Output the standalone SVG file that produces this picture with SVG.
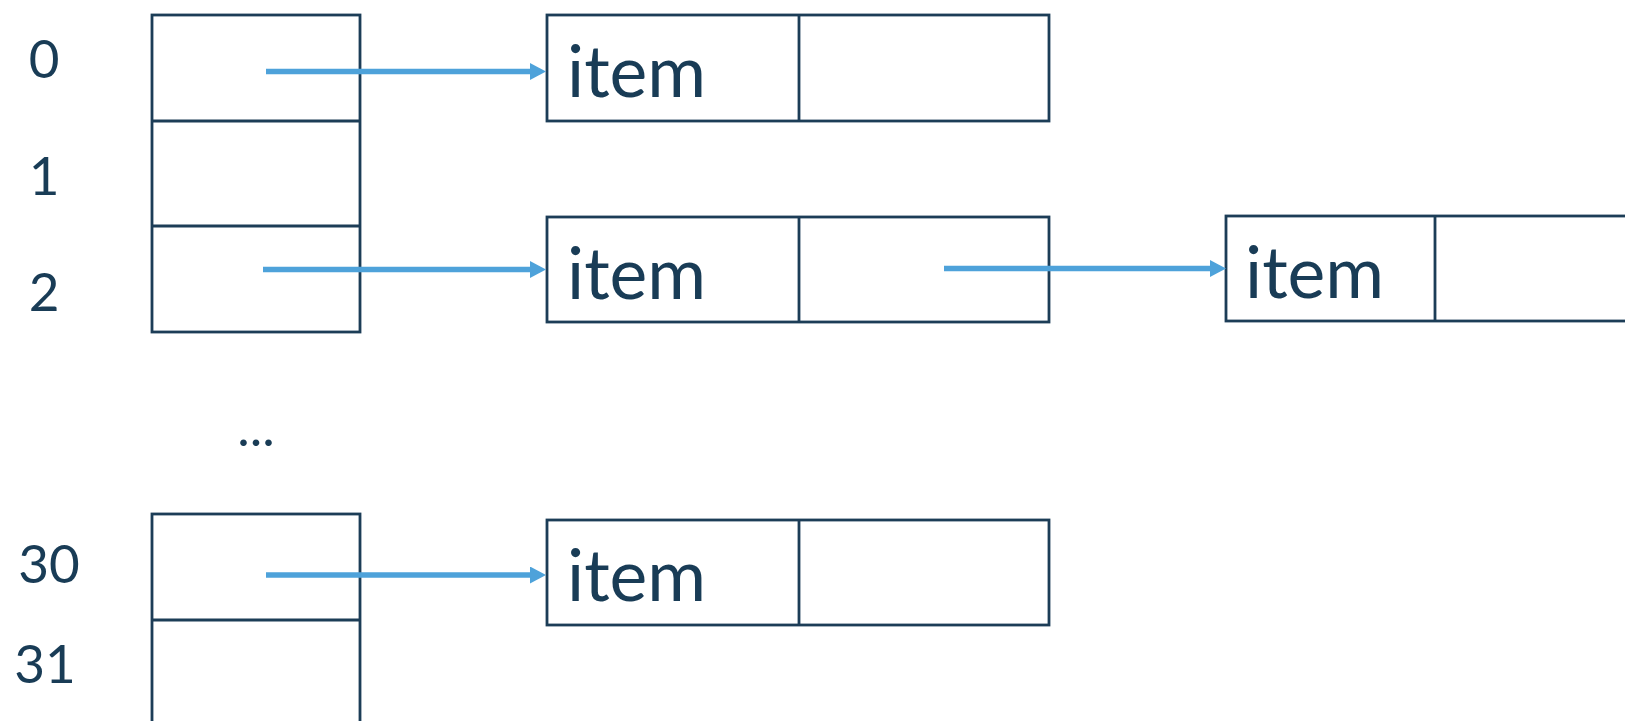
<svg xmlns="http://www.w3.org/2000/svg" width="1625" height="721" viewBox="0 0 1625 721">
  <style>
    .cell { fill: #ffffff; stroke: #1c3d57; stroke-width: 2.8; }
    .div { stroke: #1c3d57; stroke-width: 2.8; }
    .idx { font-family: Lato, "Liberation Sans", sans-serif; font-size: 53px; fill: #193c56; text-anchor: middle; }
    .item { font-family: Lato, "Liberation Sans", sans-serif; font-size: 71.5px; fill: #193c56; }
    .ptr { stroke: #4ea2da; stroke-width: 5.5; fill: none; marker-end: url(#head); }
  </style>
  <defs>
    <marker id="head" viewBox="0 0 16 17" markerWidth="16" markerHeight="17" refX="3" refY="8.5" markerUnits="userSpaceOnUse" orient="auto">
      <path d="M0,0 L16,8.5 L0,17 z" fill="#4ea2da"/>
    </marker>
  </defs>
  <rect width="1625" height="721" fill="#ffffff"/>

  <!-- index labels -->
  <g id="labels">
    <text class="idx" x="44" y="78">0</text>
    <text class="idx" x="44" y="195">1</text>
    <text class="idx" x="44" y="311">2</text>
    <text class="idx" x="256" y="446">...</text>
    <text class="idx" x="49" y="583">30</text>
    <text class="idx" x="45" y="683">31</text>
  </g>

  <!-- bucket array, slots 0-2 -->
  <g id="buckets-top">
    <rect class="cell" x="152" y="15" width="208" height="317"/>
    <line class="div" x1="152" y1="121" x2="360" y2="121"/>
    <line class="div" x1="152" y1="226" x2="360" y2="226"/>
  </g>

  <!-- bucket array, slots 30-31 -->
  <g id="buckets-bottom">
    <rect class="cell" x="152" y="514" width="208" height="230"/>
    <line class="div" x1="152" y1="620" x2="360" y2="620"/>
  </g>

  <!-- list nodes -->
  <g id="node-0">
    <rect class="cell" x="547" y="15" width="502" height="106"/>
    <line class="div" x1="799" y1="15" x2="799" y2="121"/>
    <text class="item" x="567" y="97">item</text>
  </g>
  <g id="node-2a">
    <rect class="cell" x="547" y="217" width="502" height="105"/>
    <line class="div" x1="799" y1="217" x2="799" y2="322"/>
    <text class="item" x="567" y="299">item</text>
  </g>
  <g id="node-2b">
    <rect class="cell" x="1226" y="216" width="420" height="105"/>
    <line class="div" x1="1435" y1="216" x2="1435" y2="321"/>
    <text class="item" x="1245" y="298">item</text>
  </g>
  <g id="node-30">
    <rect class="cell" x="547" y="520" width="502" height="105"/>
    <line class="div" x1="799" y1="520" x2="799" y2="625"/>
    <text class="item" x="567" y="601">item</text>
  </g>

  <!-- pointers -->
  <g id="connectors">
    <line class="ptr" x1="266" y1="71.5" x2="533" y2="71.5"/>
    <line class="ptr" x1="263" y1="269.5" x2="533" y2="269.5"/>
    <line class="ptr" x1="944" y1="268.5" x2="1213" y2="268.5"/>
    <line class="ptr" x1="266" y1="575" x2="533" y2="575"/>
  </g>
</svg>
